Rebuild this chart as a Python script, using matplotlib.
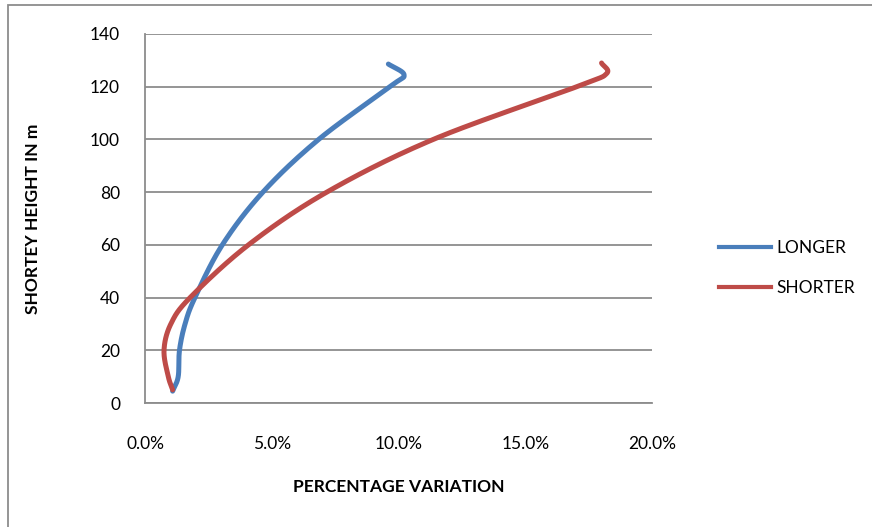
import numpy as np
import matplotlib
matplotlib.use("Agg")
import matplotlib.pyplot as plt
from matplotlib.ticker import FuncFormatter
from matplotlib.lines import Line2D

plt.rcParams['font.family'] = ['Lato', 'DejaVu Sans']

# Height (m) against percentage variation for the two directions
longer_height = [4.5, 10, 20, 30, 40, 60, 80, 100, 120, 124.5, 128.6]
longer_pct = [1.09, 1.31, 1.36, 1.58, 1.97, 3.05, 4.65, 6.85, 9.66, 10.22, 9.60]

shorter_height = [5, 10, 20, 30, 40, 60, 80, 100, 120, 125, 129]
shorter_pct = [1.09, 0.92, 0.75, 1.02, 1.78, 4.08, 7.17, 11.37, 17.03, 18.21, 18.01]

series_names = ["LONGER", "SHORTER"]
series_colors = ["#4A7EBB", "#BE4B48"]

x_ticks = [0, 5, 10, 15, 20]
y_ticks = [0, 20, 40, 60, 80, 100, 120, 140]


def smooth(xs, ys, n=24):
    """Catmull-Rom smoothing through the given points (Excel-style smoothed line)."""
    p = np.column_stack([xs, ys]).astype(float)
    p = np.vstack([p[0] * 2 - p[1], p, p[-1] * 2 - p[-2]])
    out = []
    for i in range(1, len(p) - 2):
        p0, p1, p2, p3 = p[i - 1], p[i], p[i + 1], p[i + 2]
        t = np.linspace(0, 1, n, endpoint=False)[:, None]
        seg = 0.5 * ((2 * p1) + (-p0 + p2) * t + (2 * p0 - 5 * p1 + 4 * p2 - p3) * t ** 2
                     + (-p0 + 3 * p1 - 3 * p2 + p3) * t ** 3)
        out.append(seg)
    out.append(p[-2][None, :])
    out = np.vstack(out)
    return out[:, 0], out[:, 1]


fig = plt.figure(figsize=(8.72, 5.27), dpi=100)
ax = fig.add_axes([145 / 872, 1 - 403 / 527, (652 - 145) / 872, (403 - 34) / 527])

# chart-area border
fig.patches.append(plt.Rectangle((8 / 872, -0.05), 1.1, 1 - 5 / 527 + 0.05,
                                 transform=fig.transFigure, fill=False,
                                 edgecolor="#8C8C8C", linewidth=1.3))

for xs, ys, name, col in [(longer_pct, longer_height, series_names[0], series_colors[0]),
                          (shorter_pct, shorter_height, series_names[1], series_colors[1])]:
    sx, sy = smooth(xs, ys)
    ax.plot(sx, sy, color=col, linewidth=3.6, solid_capstyle="round",
            solid_joinstyle="round", label=name, zorder=3)

ax.set_xlim(0, 20)
ax.set_ylim(0, 140)
ax.set_xticks(x_ticks)
ax.set_yticks(y_ticks)
ax.xaxis.set_major_formatter(FuncFormatter(lambda v, _: f"{v:.1f}%"))
ax.tick_params(axis="both", length=0, labelsize=12.5, colors="black")
ax.tick_params(axis="x", pad=24)
ax.tick_params(axis="y", pad=18)
ax.grid(axis="y", color="#8C8C8C", linewidth=1.3)
ax.set_axisbelow(True)
for s in ["top", "right"]:
    ax.spines[s].set_visible(False)
for s in ["left", "bottom"]:
    ax.spines[s].set_color("#8C8C8C")
    ax.spines[s].set_linewidth(1.3)

ax.set_xlabel("PERCENTAGE VARIATION", fontsize=12.5, fontweight="bold")
ax.set_ylabel("SHORTEY HEIGHT IN m", fontsize=12.5, fontweight="bold")
ax.xaxis.set_label_coords(0.5, -0.205)
ax.yaxis.set_label_coords(-0.205, 0.5)

handles = [Line2D([0], [0], color=c, linewidth=3.0) for c in series_colors]
fig.legend(handles, series_names, loc="center left", bbox_to_anchor=(703 / 872, 1 - 268 / 527),
           frameon=False, fontsize=12.5, handlelength=3.0, handletextpad=0.3, labelspacing=1.4)

fig.savefig("out.png", dpi=100)
